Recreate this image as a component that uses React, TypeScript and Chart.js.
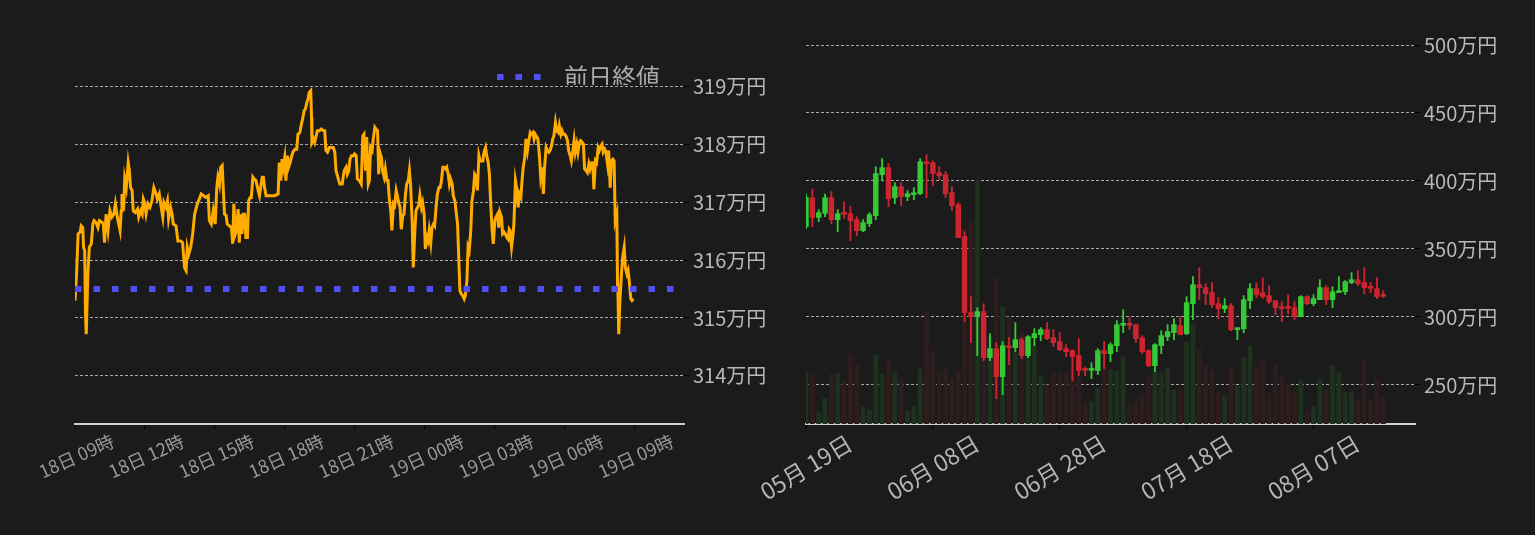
import React, { useEffect, useRef } from 'react';
import { Chart, registerables } from 'chart.js';

Chart.register(...registerables);

const FONT = '"Noto Sans CJK JP", "Noto Sans", sans-serif';
const BG = '#1b1b1b';
const GRID = '#a8a8a8';

// ---------- intraday (minutes after 18日 09:00, price in 万円) ----------
const intradayMinutes = [
  0, 4, 8, 13, 16, 20, 22, 25, 27, 29, 33, 37, 42, 46, 49, 54, 59, 63, 70, 73,
  76, 80, 85, 90, 95, 100, 104, 109, 116, 119, 121, 125, 128, 132, 137, 140, 143, 147, 150, 155,
  161, 164, 169, 173, 176, 179, 183, 188, 193, 198, 203, 209, 212, 217, 222, 226, 229, 234, 238, 241,
  246, 250, 253, 260, 265, 272, 277, 282, 286, 289, 293, 298, 303, 308, 315, 320, 325, 331, 337, 343,
  346, 351, 356, 361, 365,
  368, 372, 375, 379, 382, 385, 389, 392, 397, 403, 406, 409, 413, 416, 420, 423, 427, 430, 433, 437,
  440, 444, 447, 451, 454, 458, 461, 466, 470, 475, 478, 482, 485, 488, 492, 497, 506, 514, 523, 526,
  530, 533, 536, 540, 543, 547, 550, 554, 557, 561, 566, 571, 574, 579, 583, 586, 590, 593, 597, 600,
  603, 607, 609, 610, 614, 617, 621, 624, 629, 634, 640, 643, 646, 650, 655, 660, 665, 669, 672, 676,
  679, 682, 688, 693, 698, 701, 705, 708, 712, 717, 720, 724, 727, 732, 737, 741,
  744, 748, 751, 755, 758, 761, 765, 768, 772, 775, 779, 782, 785, 789, 792, 796, 799, 803, 806, 809,
  813, 816, 820, 823, 827, 830, 834, 837, 840, 844, 847, 851, 854, 858, 861, 864, 868, 871, 875, 878,
  882, 885, 888, 892, 895, 899, 902, 906, 909, 912, 916, 919, 923, 926, 930, 933, 937, 940, 943, 947,
  950, 954, 957, 961, 964, 967, 971, 974, 978, 981, 985, 988, 991, 995, 998, 1002, 1005, 1009, 1012, 1015,
  1019, 1022, 1026, 1029, 1033, 1036, 1040, 1043, 1046, 1050, 1053, 1057, 1060, 1064, 1067, 1070, 1074, 1077, 1081, 1084,
  1088, 1091, 1094, 1098, 1101, 1105, 1108, 1112, 1115, 1118,
  1120, 1124, 1127, 1130, 1134, 1137, 1141, 1144, 1148, 1151, 1154, 1158, 1161, 1165, 1168, 1172, 1175, 1179, 1182, 1185,
  1189, 1192, 1196, 1199, 1203, 1206, 1209, 1213, 1216, 1220, 1223, 1227, 1230, 1233, 1237, 1240, 1244, 1247, 1251, 1254,
  1257, 1261, 1264, 1268, 1271, 1275, 1278, 1282, 1285, 1288, 1292, 1295, 1299, 1302, 1306, 1309, 1312, 1316, 1319, 1323,
  1326, 1330, 1333, 1336, 1340, 1343, 1347, 1350, 1354, 1357, 1360, 1364, 1367, 1371, 1374, 1378, 1381, 1385, 1388, 1391,
  1395, 1397, 1398, 1400, 1403, 1407, 1410, 1414, 1417, 1421, 1424, 1427, 1431, 1434, 1438,
];
const intradayPrices = [
  315.30, 315.76, 316.45, 316.48, 316.59, 316.56, 316.22, 316.16, 315.07, 314.72, 315.76, 316.22, 316.28, 316.62, 316.68, 316.65, 316.56, 316.68, 316.65, 316.62,
  316.30, 316.79, 316.51, 316.85, 316.74, 316.79, 316.97, 316.74, 316.51, 316.85, 317.14, 316.85, 317.40, 317.25, 317.68, 317.54, 317.25, 317.20, 316.85, 316.82,
  316.88, 316.74, 316.85, 316.79, 317.05, 316.99, 316.79, 316.97, 316.91, 317.02, 317.25, 317.14, 317.05, 317.14, 316.91, 316.74, 316.99, 316.91, 317.02, 316.71,
  316.91, 316.79, 316.62, 316.59, 316.33, 316.33, 316.30, 315.87, 315.82, 316.22, 316.10, 316.22, 316.45, 316.79, 316.97, 317.05, 317.14, 317.11, 317.08, 317.11,
  316.68, 316.62, 316.85, 316.62, 317.25,
  317.43, 317.31, 317.60, 317.63, 317.20, 316.79, 316.77, 316.62, 316.59, 316.56, 316.28, 316.97, 316.45, 316.51, 316.88, 316.30, 316.79, 316.45, 316.79, 316.79,
  316.39, 316.39, 317.02, 317.08, 317.08, 317.43, 317.40, 317.37, 317.25, 317.11, 317.25, 317.43, 317.43, 317.25, 317.11, 317.11, 317.11, 317.11, 317.14, 317.68,
  317.37, 317.74, 317.60, 317.77, 317.37, 317.80, 317.60, 317.68, 317.77, 317.86, 317.91, 317.91, 318.17, 318.20, 318.35, 318.43, 318.58, 318.60, 318.72, 318.78,
  318.89, 318.92, 318.46, 318.03, 318.09, 318.03, 318.14, 318.23, 318.23, 318.26, 318.23, 318.23, 317.89, 317.86, 317.94, 317.94, 317.94, 317.86, 317.54, 317.45,
  317.37, 317.31, 317.31, 317.54, 317.60, 317.48, 317.54, 317.74, 317.80, 317.80, 317.83, 317.80, 317.40, 317.37, 317.31, 318.14,
  318.17, 317.54, 318.12, 317.31, 317.37, 317.94, 317.89, 318.09, 318.29, 318.26, 318.23, 317.48, 317.86, 317.77, 317.54, 317.43, 317.57, 317.37, 317.37, 317.08,
  316.85, 316.51, 316.97, 316.94, 317.20, 317.11, 316.97, 316.91, 316.53, 316.77, 316.79, 317.14, 317.31, 317.37, 317.54, 317.31, 316.68, 315.87, 316.51, 316.85,
  316.91, 316.94, 317.11, 316.91, 316.99, 316.79, 316.19, 316.39, 316.33, 316.51, 316.30, 316.56, 316.62, 316.59, 316.94, 317.14, 317.25, 317.25, 317.34, 317.60,
  317.60, 317.57, 317.60, 317.48, 317.31, 317.40, 317.31, 317.11, 317.02, 316.85, 316.62, 316.05, 315.47, 315.41, 315.39, 315.33, 315.39, 315.64, 316.22, 316.16,
  316.51, 317.02, 317.20, 317.48, 317.43, 317.20, 317.80, 317.71, 317.71, 317.71, 317.86, 317.94, 317.80, 317.68, 317.48, 317.02, 316.51, 316.28, 316.68, 316.74,
  316.79, 316.56, 316.82, 316.74, 316.45, 316.48, 316.45, 316.39, 316.36, 316.53,
  316.51, 316.22, 316.39, 316.62, 317.37, 317.25, 316.91, 317.14, 317.08, 317.37, 317.60, 317.77, 318.09, 317.89, 318.03, 318.20, 318.17, 318.20, 318.09, 318.17,
  318.12, 318.09, 317.77, 317.43, 317.60, 317.14, 317.60, 317.94, 317.89, 317.86, 317.89, 317.97, 318.09, 318.14, 318.37, 318.23, 318.20, 318.32, 318.17, 318.23,
  318.17, 318.17, 318.14, 318.06, 317.89, 317.80, 317.71, 317.89, 318.06, 317.86, 318.00, 317.86, 318.03, 318.06, 318.03, 318.00, 317.57, 317.54, 317.51, 317.66,
  317.57, 317.68, 317.68, 317.22, 317.71, 317.68, 317.94, 317.89, 317.97, 318.00, 317.86, 317.91, 317.86, 317.66, 317.89, 317.25, 317.71, 317.74, 317.71, 316.68,
  316.79, 315.53, 315.41, 314.72, 315.30, 315.76, 316.05, 316.22, 315.87, 315.76, 315.82, 315.64, 315.33, 315.30, 315.33,
];
const previousClose = 315.5;
const previousCloseLabel = '前日終値';
const intradayAxisEndMinutes = 1568;
const intradayPriceMin = 313.17;
const intradayPriceMax = 319.02;
const intradayTickStepMinutes = 180;
const intradayTickLabels = ['18日 09時', '18日 12時', '18日 15時', '18日 18時', '18日 21時', '19日 00時', '19日 03時', '19日 06時', '19日 09時'];

// ---------- daily candles (from 05月19日, price in 万円) ----------
const dailyOpen = [
  366.41, 387.49, 373.28, 376.22, 387.74, 371.56, 375.97, 375.97, 371.56, 363.47,
  368.62, 374.50, 404.65, 409.80, 387.74, 395.83, 388.47, 389.94, 390.68, 414.21,
  413.47, 406.12, 404.65, 391.41, 382.59, 359.06, 303.18, 300.24, 303.91, 270.09,
  276.71, 256.12, 278.91, 277.44, 283.33, 271.56, 284.80, 286.96, 290.68, 284.80,
  281.85, 276.71, 275.24, 271.56, 261.27, 260.78, 260.53, 275.24, 273.03, 278.91,
  293.86, 294.35, 294.35, 284.80, 275.24, 264.21, 278.91, 285.53, 288.47, 293.62,
  287.74, 309.80, 323.77, 321.56, 317.88, 309.80, 306.12, 308.33, 290.68, 291.41,
  312.01, 320.83, 317.88, 315.68, 312.01, 307.59, 306.85, 306.85, 300.24, 314.94,
  309.80, 312.74, 321.56, 312.74, 317.88, 318.62, 325.24, 327.44, 325.24, 321.56,
  320.83, 315.68,
];
const dailyClose = [
  387.98, 373.28, 376.71, 387.74, 371.56, 375.97, 375.48, 370.83, 363.47, 369.36,
  375.24, 405.39, 409.80, 387.00, 395.83, 388.47, 390.68, 391.41, 414.21, 412.74,
  405.39, 403.91, 390.68, 381.86, 358.33, 303.18, 300.24, 303.91, 270.09, 276.71,
  256.12, 278.91, 277.44, 283.33, 271.56, 285.53, 287.74, 290.68, 284.06, 281.12,
  275.97, 274.50, 270.83, 260.53, 260.78, 261.27, 275.24, 273.03, 279.65, 294.35,
  294.35, 293.86, 284.06, 274.50, 264.21, 279.65, 286.27, 289.21, 294.35, 286.96,
  310.53, 323.77, 321.56, 317.15, 309.06, 306.12, 308.33, 290.68, 292.15, 312.74,
  320.83, 316.41, 314.94, 311.27, 306.85, 306.12, 306.36, 300.24, 314.94, 309.80,
  313.47, 321.56, 312.74, 318.62, 319.35, 325.97, 327.44, 324.50, 321.56, 321.07,
  314.94, 315.19,
];
const dailyHigh = [
  390.43, 394.11, 378.91, 390.43, 392.15, 378.91, 384.80, 381.37, 373.77, 371.56,
  376.71, 410.53, 416.41, 412.74, 398.77, 398.77, 392.88, 395.09, 416.41, 419.36,
  414.94, 410.53, 406.86, 395.83, 384.06, 362.74, 314.94, 306.85, 309.80, 287.74,
  281.12, 281.85, 284.80, 295.83, 284.80, 286.27, 291.41, 292.15, 295.83, 290.68,
  288.47, 279.65, 275.97, 284.06, 263.47, 266.41, 276.71, 281.85, 281.12, 297.30,
  305.39, 299.50, 294.35, 286.27, 275.97, 280.39, 289.94, 294.35, 298.77, 300.24,
  314.94, 329.65, 336.27, 324.50, 325.24, 314.21, 313.47, 309.80, 292.15, 315.68,
  324.50, 325.24, 328.91, 323.03, 312.01, 311.27, 316.41, 311.27, 315.68, 315.68,
  316.41, 327.44, 323.03, 322.30, 329.65, 326.71, 332.59, 334.06, 336.27, 325.24,
  328.91, 319.35,
];
const dailyLow = [
  365.00, 366.41, 370.09, 373.77, 368.62, 362.74, 372.54, 356.12, 359.80, 362.74,
  366.41, 371.56, 399.99, 381.12, 383.33, 381.86, 385.53, 386.27, 389.94, 387.74,
  396.56, 400.97, 387.74, 378.18, 358.33, 296.56, 281.12, 271.56, 267.88, 267.88,
  239.94, 242.88, 264.94, 274.50, 269.35, 270.09, 278.91, 282.59, 283.33, 278.18,
  275.24, 270.83, 253.18, 256.86, 256.86, 254.65, 257.59, 262.00, 267.15, 274.50,
  288.47, 290.68, 281.12, 273.03, 263.47, 259.80, 273.03, 282.59, 283.33, 286.96,
  286.96, 298.03, 312.74, 309.06, 306.85, 298.77, 303.18, 289.94, 283.33, 288.47,
  306.12, 314.21, 313.47, 309.80, 301.71, 296.56, 302.44, 298.03, 300.24, 309.06,
  308.33, 312.74, 309.06, 306.85, 317.88, 316.41, 324.50, 323.03, 317.15, 317.88,
  313.47, 314.21,
];
const dailyVolume = [
  1060, 1000, 240, 520, 1000, 1000, 860, 1400, 1180, 340,
  280, 1380, 1000, 1280, 1040, 920, 260, 360, 1100, 2240,
  1460, 1040, 1100, 900, 1060, 3920, 4080, 4880, 1340, 1740,
  2920, 2340, 2140, 1420, 1860, 1340, 1560, 960, 780, 1040,
  1020, 1040, 1140, 980, 440, 440, 700, 1120, 1080, 1060,
  1340, 400, 420, 600, 940, 1060, 1020, 1120, 680, 680,
  1640, 2000, 1520, 1160, 1080, 620, 560, 1120, 760, 1320,
  1560, 1140, 1260, 620, 1180, 980, 800, 660, 880, 260,
  340, 900, 700, 1160, 1020, 620, 640, 500, 1280, 500,
  900, 540,
];
const dailyAxisEndDay = 96;
const dailyPriceMin = 221.3;
const dailyPriceMax = 500;
const dailyVolumeMax = 7580;
const dailyTickStepDays = 20;
const dailyTickLabels = ['05月 19日', '06月 08日', '06月 28日', '07月 18日', '08月 07日'];

const UP = '#36c936';
const DOWN = '#cc2530';
const UP_VOL = '#1e301e';
const DOWN_VOL = '#2e1d1e';
const PREV_CLOSE_COLOR = '#5050f2';
const PREV_CLOSE_DASH = [6.5, 12];

function IntradayChart() {
  const ref = useRef<HTMLCanvasElement>(null);
  useEffect(() => {
    const chart = new Chart(ref.current as HTMLCanvasElement, {
      type: 'line',
      data: {
        datasets: [
          {
            label: previousCloseLabel,
            data: [
              { x: 0, y: previousClose },
              { x: intradayAxisEndMinutes, y: previousClose },
            ],
            borderColor: PREV_CLOSE_COLOR,
            backgroundColor: PREV_CLOSE_COLOR,
            borderWidth: 6,
            borderDash: PREV_CLOSE_DASH,
            pointRadius: 0,
          },
          {
            label: '価格',
            data: intradayMinutes.map((m, i) => ({ x: m, y: intradayPrices[i] })),
            borderColor: '#ffab00',
            backgroundColor: '#ffab00',
            borderWidth: 3,
            pointRadius: 0,
            tension: 0,
          },
        ],
      },
      options: {
        responsive: false,
        animation: false,
        events: [],
        layout: { padding: { left: 75, top: 41, right: 0, bottom: 0 } },
        plugins: {
          tooltip: { enabled: false },
          legend: {
            position: 'top',
            align: 'end',
            fullSize: false,
            maxHeight: 44,
            labels: {
              color: '#aaaaaa',
              font: { family: FONT, size: 24 },
              usePointStyle: true,
              pointStyle: 'line',
              pointStyleWidth: 55,
              padding: 24,
              generateLabels: () => [
                {
                  text: previousCloseLabel,
                  fillStyle: PREV_CLOSE_COLOR,
                  strokeStyle: PREV_CLOSE_COLOR,
                  fontColor: '#aaaaaa',
                  lineWidth: 6,
                  lineDash: PREV_CLOSE_DASH,
                  lineCap: 'butt',
                  pointStyle: 'line',
                  hidden: false,
                  datasetIndex: 0,
                },
              ],
            },
          },
        },
        scales: {
          x: {
            type: 'linear',
            min: 0,
            max: intradayAxisEndMinutes,
            afterFit: (s: any) => { s.height = 111; s.paddingLeft = 0; s.paddingRight = 0; },
            grid: { drawOnChartArea: false, drawTicks: true, tickLength: 5, tickColor: '#000000' },
            border: { color: '#cfcfcf', width: 2 },
            ticks: {
              stepSize: intradayTickStepMinutes,
              includeBounds: false,
              autoSkip: false,
              minRotation: 24,
              maxRotation: 24,
              labelOffset: 38,
              padding: 1,
              color: '#9a9a9a',
              font: { family: FONT, size: 18 },
              callback: (v: any) => intradayTickLabels[Math.round(Number(v) / intradayTickStepMinutes)] ?? '',
            },
          },
          y: {
            position: 'right',
            min: intradayPriceMin,
            max: intradayPriceMax,
            afterFit: (s: any) => { s.width = 83; },
            grid: { color: GRID, lineWidth: 1, tickLength: 5, tickColor: '#000000' },
            border: { display: false, dash: [3, 2] },
            ticks: {
              stepSize: 1,
              includeBounds: false,
              padding: 4,
              color: '#b8b8b8',
              font: { family: FONT, size: 20 },
              callback: (v: any) => `${v}万円`,
            },
          },
        },
      },
    } as any);
    return () => chart.destroy();
  }, []);
  return <canvas ref={ref} width={767} height={535} style={{ position: 'absolute', left: 0, top: 0, width: 767, height: 535 }} />;
}

function DailyChart() {
  const ref = useRef<HTMLCanvasElement>(null);
  useEffect(() => {
    const isUp = dailyOpen.map((o, i) => dailyClose[i] >= o);
    const candleColors = isUp.map((u) => (u ? UP : DOWN));
    const volumeColors = isUp.map((u) => (u ? UP_VOL : DOWN_VOL));
    const chart = new Chart(ref.current as HTMLCanvasElement, {
      type: 'bar',
      data: {
        datasets: [
          {
            label: 'body',
            data: dailyOpen.map((o, i) => ({ x: i, y: [Math.min(o, dailyClose[i]), Math.max(o, dailyClose[i])] })),
            backgroundColor: candleColors,
            grouped: false,
            barPercentage: 1,
            categoryPercentage: 1,
            maxBarThickness: 4.8,
            minBarLength: 2,
            clip: 0,
            order: 1,
            yAxisID: 'y',
          },
          {
            label: 'wick',
            data: dailyOpen.map((_, i) => ({ x: i, y: [dailyLow[i], dailyHigh[i]] })),
            backgroundColor: candleColors,
            grouped: false,
            barPercentage: 1,
            categoryPercentage: 1,
            maxBarThickness: 1.2,
            clip: 0,
            order: 2,
            yAxisID: 'y',
          },
          {
            label: 'volume',
            data: dailyVolume.map((v, i) => ({ x: i, y: v })),
            backgroundColor: volumeColors,
            grouped: false,
            barPercentage: 1,
            categoryPercentage: 1,
            maxBarThickness: 4.2,
            clip: 0,
            order: 3,
            yAxisID: 'volume',
          },
        ],
      },
      options: {
        responsive: false,
        animation: false,
        events: [],
        layout: { padding: { left: 106, top: 45, right: 0, bottom: 0 } },
        plugins: { tooltip: { enabled: false }, legend: { display: false } },
        scales: {
          x: {
            type: 'linear',
            min: 0,
            max: dailyAxisEndDay,
            offset: false,
            afterFit: (s: any) => { s.height = 111; s.paddingLeft = 0; s.paddingRight = 0; },
            grid: { offset: false, drawOnChartArea: false, drawTicks: true, tickLength: 5, tickColor: '#000000' },
            border: { color: '#cfcfcf', width: 2 },
            ticks: {
              stepSize: dailyTickStepDays,
              includeBounds: false,
              autoSkip: false,
              minRotation: 31,
              maxRotation: 31,
              labelOffset: 44,
              padding: 0,
              color: '#b5b5b5',
              font: { family: FONT, size: 23 },
              callback: (v: any) => dailyTickLabels[Math.round(Number(v) / dailyTickStepDays)] ?? '',
            },
          },
          y: {
            position: 'right',
            min: dailyPriceMin,
            max: dailyPriceMax,
            beginAtZero: false,
            afterFit: (s: any) => { s.width = 120; },
            grid: { color: GRID, lineWidth: 1, tickLength: 5, tickColor: '#000000' },
            border: { display: false, dash: [3, 2] },
            ticks: {
              stepSize: 50,
              includeBounds: false,
              padding: 4,
              color: '#b8b8b8',
              font: { family: FONT, size: 20 },
              callback: (v: any) => `${v}万円`,
            },
          },
          volume: {
            type: 'linear',
            position: 'left',
            display: false,
            min: 0,
            max: dailyVolumeMax,
            grid: { display: false },
          },
        },
      },
    } as any);
    return () => chart.destroy();
  }, []);
  return <canvas ref={ref} width={835} height={535} style={{ position: 'absolute', left: 700, top: 0, width: 835, height: 535 }} />;
}

export default function App() {
  return (
    <div style={{ position: 'fixed', left: 0, top: 0, width: 1535, height: 535, background: BG, overflow: 'hidden' }}>
      <IntradayChart />
      <DailyChart />
    </div>
  );
}
